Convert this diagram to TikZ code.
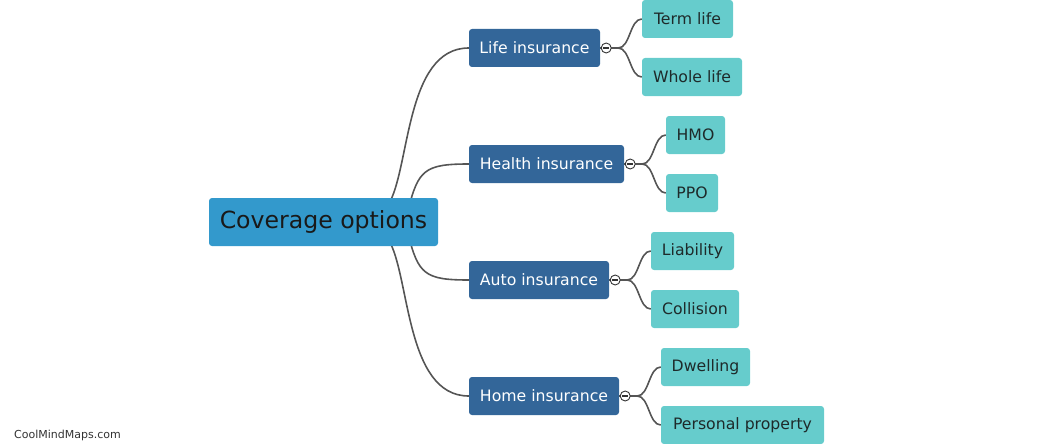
\documentclass[tikz,border=0pt]{standalone}
\usepackage{fontspec}
\setmainfont{DejaVu Sans}
\usetikzlibrary{calc}
\pgfdeclarelayer{bg}
\pgfsetlayers{bg,main}
\definecolor{rootc}{HTML}{3399CC}
\definecolor{mainc}{HTML}{336699}
\definecolor{leafc}{HTML}{66CCCC}
\definecolor{leaftext}{HTML}{1E2A2A}
\definecolor{linkc}{HTML}{555555}
\definecolor{togglec}{HTML}{333333}
\definecolor{wmc}{HTML}{333333}
\begin{document}
\begin{tikzpicture}[x=1pt,y=-1pt,
  box/.style={rounded corners=3pt, inner sep=0pt, align=center},
  rootbox/.style={box, fill=rootc, text=black!90, minimum height=48pt, font=\fontsize{23.6}{27}\selectfont},
  mainbox/.style={box, fill=mainc, text=white, minimum height=38pt, font=\fontsize{15.7}{18}\selectfont},
  leafbox/.style={box, fill=leafc, text=leaftext, minimum height=38pt, font=\fontsize{15.7}{18}\selectfont},
  link/.style={draw=linkc, line width=1.6pt},
  toggle/.style={circle, draw=togglec, fill=white, line width=0.9pt, minimum size=10pt, inner sep=0pt,
    path picture={\draw[line width=1.1pt, togglec] ([xshift=-3pt]path picture bounding box.center) -- ([xshift=3pt]path picture bounding box.center);}}
]
\useasboundingbox (0,0) rectangle (1046,444);

\node[rootbox, minimum width=229pt] (root) at (323.5,222) {Coverage options};

\node[mainbox, minimum width=131pt] (life) at (534.5,48) {Life insurance};
\node[mainbox, minimum width=155pt] (health) at (546.5,164) {Health insurance};
\node[mainbox, minimum width=140pt] (auto) at (539,280) {Auto insurance};
\node[mainbox, minimum width=150pt] (home) at (544,396) {Home insurance};

\node[leafbox, minimum width=91pt] (term) at (687.5,19) {Term life};
\node[leafbox, minimum width=100pt] (whole) at (692,77) {Whole life};
\node[leafbox, minimum width=59pt] (hmo) at (695.5,135) {HMO};
\node[leafbox, minimum width=52pt] (ppo) at (692,193) {PPO};
\node[leafbox, minimum width=83pt] (liab) at (692.5,251) {Liability};
\node[leafbox, minimum width=88pt] (coll) at (695,309) {Collision};
\node[leafbox, minimum width=89pt] (dwell) at (705.5,367) {Dwelling};
\node[leafbox, minimum width=163pt] (pers) at (742.5,425) {Personal property};

\begin{pgfonlayer}{bg}
\draw[link] ([xshift=-50pt,yshift=-7pt]root.north east) .. controls +(22,-35) and +(-64,0) .. (life.west);
\draw[link] ([xshift=-30pt,yshift=-12pt]root.north east) .. controls +(10,-40) and +(-44,0) .. (health.west);
\draw[link] ([xshift=-30pt,yshift=12pt]root.south east) .. controls +(10,40) and +(-44,0) .. (auto.west);
\draw[link] ([xshift=-50pt,yshift=7pt]root.south east) .. controls +(22,35) and +(-64,0) .. (home.west);

\draw[link] (life.east) -- ++(18,0) .. controls +(12,0) and +(-12,0) .. (term.west);
\draw[link] (life.east) -- ++(18,0) .. controls +(12,0) and +(-12,0) .. (whole.west);
\draw[link] (health.east) -- ++(18,0) .. controls +(12,0) and +(-12,0) .. (hmo.west);
\draw[link] (health.east) -- ++(18,0) .. controls +(12,0) and +(-12,0) .. (ppo.west);
\draw[link] (auto.east) -- ++(18,0) .. controls +(12,0) and +(-12,0) .. (liab.west);
\draw[link] (auto.east) -- ++(18,0) .. controls +(12,0) and +(-12,0) .. (coll.west);
\draw[link] (home.east) -- ++(18,0) .. controls +(12,0) and +(-12,0) .. (dwell.west);
\draw[link] (home.east) -- ++(18,0) .. controls +(12,0) and +(-12,0) .. (pers.west);
\end{pgfonlayer}

\node[toggle] (tlife) at ([xshift=6pt]life.east) {};
\node[toggle] (thealth) at ([xshift=6pt]health.east) {};
\node[toggle] (tauto) at ([xshift=6pt]auto.east) {};
\node[toggle] (thome) at ([xshift=6pt]home.east) {};

\node[anchor=west, text=wmc, font=\fontsize{11}{13}\selectfont, inner sep=0pt] (wm) at (14,435) {CoolMindMaps.com};
\end{tikzpicture}
\end{document}
